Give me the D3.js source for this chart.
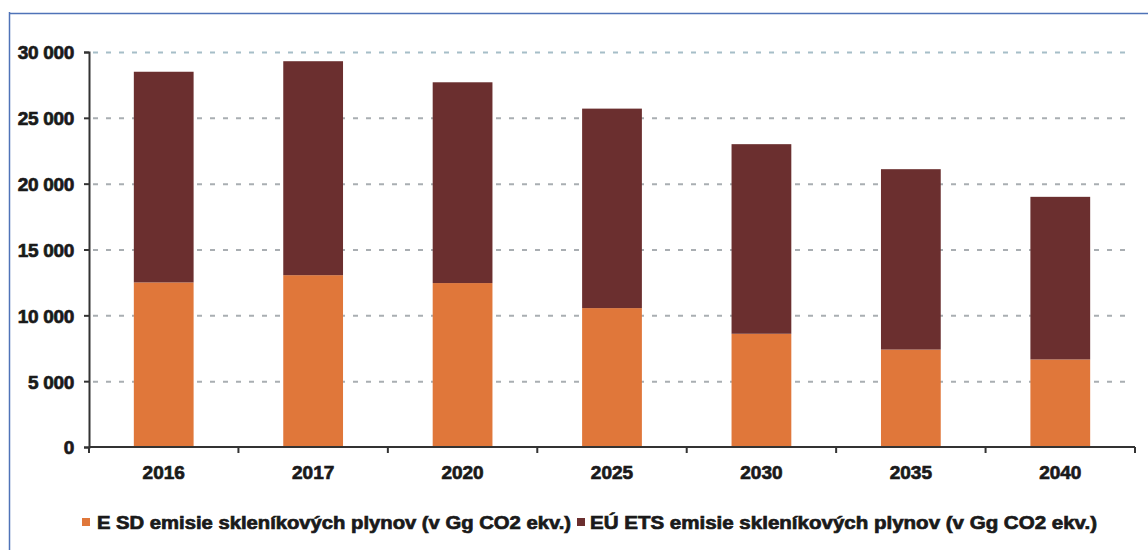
<!DOCTYPE html>
<html>
<head>
<meta charset="utf-8">
<script src="https://cdn.jsdelivr.net/npm/d3@7"></script>
<style>
  html, body { margin: 0; padding: 0; background: #fff; }
  svg { display: block; }
  text { font-family: "Liberation Sans", Arial, sans-serif; font-weight: bold; fill: #1a1a1a; }
</style>
</head>
<body>
<svg id="chart" width="1148" height="550"></svg>
<script>
// Years on the category axis
const years = ["2016", "2017", "2020", "2025", "2030", "2035", "2040"];
// ESD emissions (Gg CO2 eq.)
const esd = [12500, 13050, 12450, 10550, 8600, 7400, 6650];
// EU ETS emissions (Gg CO2 eq.), stacked on top of ESD
const ets = [16000, 16250, 15250, 15150, 14400, 13700, 12350];
// Value axis ticks
const yTicks = [0, 5000, 10000, 15000, 20000, 25000, 30000];
// Legend entries
const seriesNames = [
  "E SD emisie skleníkových plynov (v Gg CO2 ekv.)",
  "EÚ ETS emisie skleníkových plynov (v Gg CO2 ekv.)"
];
const seriesColors = ["#E0773A", "#6B2F2F"];

const svg = d3.select("#chart");
const W = 1148, H = 550;
const plot = { left: 89, right: 1135, top: 52, bottom: 447 };

// Frame lines (left and top)
svg.append("line").attr("x1", 9.5).attr("x2", 9.5).attr("y1", 12).attr("y2", H)
  .attr("stroke", "#4f73b8").attr("stroke-width", 1.5);
svg.append("line").attr("x1", 9).attr("x2", W).attr("y1", 13.5).attr("y2", 13.5)
  .attr("stroke", "#4f73b8").attr("stroke-width", 1.5);

const x = d3.scaleBand().domain(years).range([plot.left, plot.right]).paddingInner(0.6).paddingOuter(0.3);
const y = d3.scaleLinear().domain([0, 30000]).range([plot.bottom, plot.top]);

const fmt = v => d3.format(",")(v).replace(/,/g, " ");

// Heavy label look
const heavy = sel => sel.attr("stroke", "#1a1a1a").attr("stroke-width", 0.7).attr("paint-order", "stroke");

// Gridlines
svg.append("g").selectAll("line").data(yTicks.filter(d => d > 0)).join("line")
  .attr("x1", plot.left + 4).attr("x2", plot.right - 2)
  .attr("y1", d => y(d) + 0.5).attr("y2", d => y(d) + 0.5)
  .attr("stroke", d => d === 30000 ? "#a6bec8" : "#a9aeb2")
  .attr("stroke-width", 2)
  .attr("stroke-dasharray", "5 8");

// Stacked bars
const stackData = years.map((yr, i) => ({ year: yr, esd: esd[i], ets: ets[i] }));
const stacked = d3.stack().keys(["esd", "ets"])(stackData);
svg.append("g").selectAll("g").data(stacked).join("g")
  .attr("fill", (d, i) => seriesColors[i])
  .selectAll("rect").data(d => d).join("rect")
  .attr("x", d => x(d.data.year))
  .attr("width", x.bandwidth())
  .attr("y", d => y(d[1]))
  .attr("height", d => y(d[0]) - y(d[1]));

// Y axis
const yAxis = svg.append("g").attr("transform", `translate(${plot.left},0)`)
  .call(d3.axisLeft(y).tickValues(yTicks).tickFormat(fmt).tickSize(5).tickPadding(10));
yAxis.select(".domain").attr("stroke", "#333").attr("stroke-width", 2);
yAxis.selectAll(".tick line").attr("stroke", "#333").attr("stroke-width", 2);
yAxis.selectAll(".tick text").style("font-size", "19px").style("font-family", "'Liberation Sans', Arial, sans-serif")
  .style("font-weight", "bold").attr("fill", "#1a1a1a").attr("dy", "0.36em")
  .attr("letter-spacing", "-0.3").call(heavy);

// X axis: baseline with ticks between categories
const xg = svg.append("g").attr("transform", `translate(0,${plot.bottom})`);
xg.append("line").attr("x1", plot.left).attr("x2", plot.right)
  .attr("stroke", "#333").attr("stroke-width", 2);
const bounds = d3.range(years.length + 1).map(i => plot.left + i * (plot.right - plot.left) / years.length);
xg.selectAll("line.tk").data(bounds).join("line").attr("class", "tk")
  .attr("x1", d => d).attr("x2", d => d).attr("y1", 0).attr("y2", 6)
  .attr("stroke", "#333").attr("stroke-width", 2);
xg.selectAll("text").data(years).join("text")
  .attr("x", d => x(d) + x.bandwidth() / 2)
  .attr("y", 32)
  .attr("text-anchor", "middle")
  .style("font-size", "19px")
  .call(heavy)
  .text(d => d);

// Legend
const legendPos = [{ sq: 82, tx: 97, end: 571 }, { sq: 577, tx: 590, end: 1097 }];
const lg = svg.append("g");
seriesNames.forEach((name, i) => {
  const p = legendPos[i];
  lg.append("rect").attr("x", p.sq).attr("y", 518).attr("width", 8).attr("height", 8)
    .attr("fill", seriesColors[i]);
  lg.append("text").attr("x", p.tx).attr("y", 529)
    .style("font-size", "18px")
    .attr("textLength", p.end - p.tx).attr("lengthAdjust", "spacingAndGlyphs")
    .call(heavy)
    .text(name);
});
</script>
</body>
</html>
